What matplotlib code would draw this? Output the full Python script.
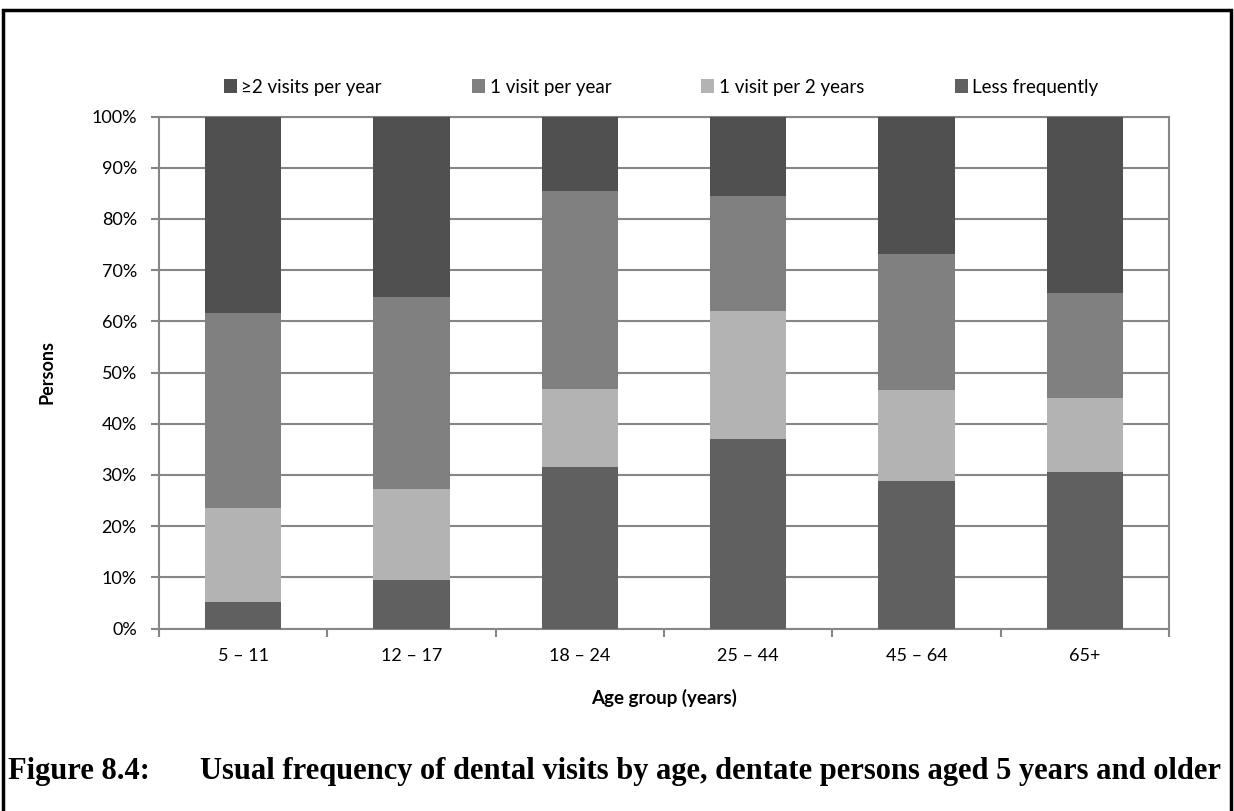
import matplotlib
matplotlib.use("Agg")
import matplotlib.pyplot as plt
from matplotlib.patches import Rectangle
import numpy as np

categories = ["5 – 11", "12 – 17", "18 – 24", "25 – 44", "45 – 64", "65+"]
less_frequently = [5.2, 9.4, 31.6, 37.1, 28.9, 30.5]
one_per_2_years = [18.3, 17.8, 15.2, 24.9, 17.7, 14.5]
one_per_year = [38.1, 37.6, 38.7, 22.5, 26.5, 20.6]
two_plus_per_year = [38.4, 35.2, 14.5, 15.5, 26.9, 34.4]

series_labels = ["≥2 visits per year", "1 visit per year", "1 visit per 2 years", "Less frequently"]
y_ticks = [0, 10, 20, 30, 40, 50, 60, 70, 80, 90, 100]

c_less = "#606060"
c_2yr = "#b3b3b3"
c_1yr = "#808080"
c_2plus = "#505050"
grid_c = "#868686"

sans = ["Lato", "DejaVu Sans"]
plt.rcParams["font.family"] = sans

fig = plt.figure(figsize=(12.34, 8.11), dpi=100)
ax = fig.add_axes([159 / 1234, 1 - 628.5 / 811, (1169 - 159) / 1234, (628.5 - 116.5) / 811])

x = np.arange(len(categories))
w = 0.453
bottom = np.zeros(len(categories))
bars = {}
for vals, col, lab in [(less_frequently, c_less, "Less frequently"),
                       (one_per_2_years, c_2yr, "1 visit per 2 years"),
                       (one_per_year, c_1yr, "1 visit per year"),
                       (two_plus_per_year, c_2plus, "≥2 visits per year")]:
    bars[lab] = ax.bar(x, vals, w, bottom=bottom, color=col, label=lab,
                       linewidth=0, zorder=3)
    bottom += np.array(vals)

ax.set_xlim(-0.5, len(categories) - 0.5)
ax.set_ylim(0, 100)
ax.set_yticks(y_ticks)
ax.set_yticklabels([f"{v}%" for v in y_ticks])
ax.yaxis.grid(True, color=grid_c, linewidth=1.5, zorder=0)
ax.set_axisbelow(True)
for s in ax.spines.values():
    s.set_color(grid_c)
    s.set_linewidth(1.5)

ax.set_xticks(x)
ax.set_xticklabels(categories)
ax.set_xticks(np.arange(-0.5, len(categories)), minor=True)
ax.tick_params(axis="x", which="major", length=0, pad=14, labelsize=13)
ax.tick_params(axis="x", which="minor", length=6, width=1.5, color=grid_c, direction="out")
ax.tick_params(axis="y", length=6, width=1.5, color=grid_c, direction="out", pad=10, labelsize=13)

ax.set_ylabel("Persons", fontsize=13, fontweight="bold", labelpad=26)
ax.set_xlabel("Age group (years)", fontsize=13.5, fontweight="bold", labelpad=18)

handles = [bars[l] for l in series_labels]
fig.legend(handles, series_labels, loc="center", bbox_to_anchor=(661 / 1234, 1 - 87 / 811),
           ncol=4, frameon=False, fontsize=13.5, handlelength=0.7, handleheight=0.7,
           handletextpad=0.25, columnspacing=4.8)

# outer frame
fig.patches.append(Rectangle((3 / 1234, -0.05), (1231 - 3) / 1234, 1.05 - 10 / 811,
                             transform=fig.transFigure, fill=False, edgecolor="black",
                             linewidth=2.5))

serif = ["Liberation Serif", "DejaVu Serif"]
fig.text(8 / 1234, 1 - 779 / 811, "Figure 8.4:", family=serif, fontweight="bold",
         fontsize=22, va="baseline", ha="left")
fig.text(200 / 1234, 1 - 779 / 811,
         "Usual frequency of dental visits by age, dentate persons aged 5 years and older",
         family=serif, fontweight="bold", fontsize=22, va="baseline", ha="left")

fig.savefig("out.png", dpi=100)
